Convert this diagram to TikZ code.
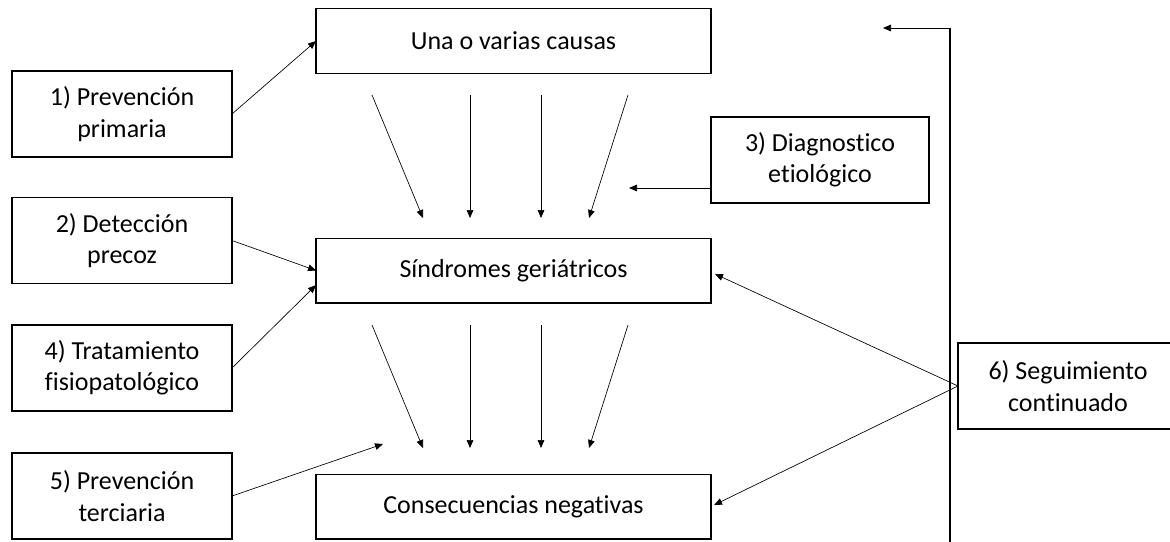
\documentclass[tikz,border=0pt]{standalone}
\usepackage{fontspec}
\setmainfont{Carlito}[Ligatures={NoCommon}]
\usetikzlibrary{arrows.meta}
\begin{document}
\begin{tikzpicture}[x=0.75pt,y=-0.75pt,
  box/.style={draw, line width=1pt, inner sep=0pt, outer sep=0pt, align=center, font=\fontsize{19.5}{23.5}\selectfont},
  mainbox/.style={box, minimum width=296.25pt, minimum height=48.5pt},
  sidebox/.style={box, minimum width=165pt, minimum height=64.5pt},
  arr/.style={line width=0.5pt, -{Triangle[length=6pt,width=5pt]}}]
\useasboundingbox (0,0) rectangle (1170,542);
\clip (0,0) rectangle (1170,542);
\node[mainbox] (causas) at (513.5,41) {Una o varias causas};
\node[mainbox] (sind) at (513.5,270.5) {Síndromes geriátricos};
\node[mainbox] (cons) at (513.5,506.5) {Consecuencias negativas};
\node[sidebox] (b1) at (122,114) {1) Prevención\\primaria};
\node[sidebox] (b2) at (122,240.5) {2) Detección\\precoz};
\node[sidebox] (b4) at (122,368) {4) Tratamiento\\fisiopatológico};
\node[sidebox] (b5) at (122,496) {5) Prevención\\terciaria};
\node[sidebox, minimum width=163.5pt] (b3) at (820,160) {3) Diagnostico\\etiológico};
\node[sidebox] (b6) at (1068,386) {6) Seguimiento\\continuado};
% side arrows
\draw[arr] (b1.east) -- (causas.west);
\draw[arr] (b2.east) -- (sind.west);
\draw[arr] (b4.east) -- ([yshift=-10.9pt]sind.west);
\coordinate (t5) at (383,444);
\draw[arr] (b5.east) -- (t5);
\coordinate (t3) at (629,188);
\draw[arr] ([yshift=-21pt]b3.west) -- (t3);
\draw[arr] (b6.west) -- ([xshift=3pt,yshift=-2.6pt]sind.east);
\draw[arr] (b6.west) -- ([xshift=2.3pt,yshift=1.1pt]cons.east);
% feedback line
\coordinate (vtop) at (950,28);
\coordinate (vbot) at (950,546);
\coordinate (vend) at (883,28);
\draw[line width=0.9pt] (vbot) -- (vtop);
\draw[arr] (vtop) -- (vend);
% vertical arrow fans
\foreach \i/\xs/\xe in {1/372/423, 2/470/470, 3/541/541, 4/628/589} {
  \coordinate (u\i s) at (\xs,95);
  \coordinate (u\i e) at (\xe,218);
  \draw[arr] (u\i s) -- (u\i e);
  \coordinate (l\i s) at (\xs,325);
  \coordinate (l\i e) at (\xe,448);
  \draw[arr] (l\i s) -- (l\i e);
}
\end{tikzpicture}
\end{document}
